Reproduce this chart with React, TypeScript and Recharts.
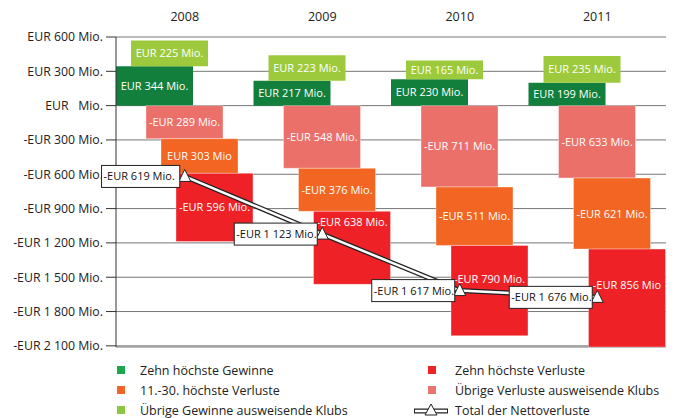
import React from 'react';
import { ComposedChart, Bar, Line, XAxis, YAxis, CartesianGrid, LabelList } from 'recharts';

const years = ['2008', '2009', '2010', '2011'];

// Mio. EUR per Jahr
const topGains = [344, 217, 230, 199];
const otherGains = [225, 223, 165, 235];
const otherLosses = [-289, -548, -711, -633];
const midLosses = [-303, -376, -511, -621];
const topLosses = [-596, -638, -790, -856];
const netTotals = [-619, -1123, -1617, -1676];

const topGainLabels = ['EUR 344 Mio.', 'EUR 217 Mio.', 'EUR 230 Mio.', 'EUR 199 Mio.'];
const otherGainLabels = ['EUR 225 Mio.', 'EUR 223 Mio.', 'EUR 165 Mio.', 'EUR 235 Mio.'];
const otherLossLabels = ['-EUR 289 Mio.', '-EUR 548 Mio.', '-EUR 711 Mio.', '-EUR 633 Mio.'];
const midLossLabels = ['EUR 303 Mio', '-EUR 376 Mio.', '-EUR 511 Mio.', '-EUR 621 Mio.'];
const topLossLabels = ['-EUR 596 Mio.', '-EUR 638 Mio.', '-EUR 790 Mio.', '-EUR 856 Mio'];
const netLabels = ['-EUR 619 Mio.', '-EUR 1 123 Mio.', '-EUR 1 617 Mio.', '-EUR 1 676 Mio.'];

const yTicks = [600, 300, 0, -300, -600, -900, -1200, -1500, -1800, -2100];

const COLORS = {
  topGain: '#137f3c',
  otherGain: '#9cca3c',
  otherLoss: '#eb706a',
  midLoss: '#f26522',
  topLoss: '#ee2226',
};

const legendItems = [
  { name: 'Zehn höchste Gewinne', color: '#19a84b', col: 0, row: 0 },
  { name: '11.-30. höchste Verluste', color: '#f26522', col: 0, row: 1 },
  { name: 'Übrige Gewinne ausweisende Klubs', color: '#8dc63f', col: 0, row: 2 },
  { name: 'Zehn höchste Verluste', color: '#ee2226', col: 1, row: 0 },
  { name: 'Übrige Verluste ausweisende Klubs', color: '#ec766f', col: 1, row: 1 },
];

// waterfall: gains stack up from zero, losses stack down from zero
const data = years.map((year, i) => {
  const g1 = topGains[i];
  const g2 = g1 + otherGains[i];
  const l1 = otherLosses[i];
  const l2 = l1 + midLosses[i];
  const l3 = l2 + topLosses[i];
  return {
    year,
    topGain: [0, g1],
    otherGain: [g1, g2],
    otherLoss: [l1, 0],
    midLoss: [l2, l1],
    topLoss: [l3, l2],
    net: netTotals[i],
    topGainLabel: topGainLabels[i],
    otherGainLabel: otherGainLabels[i],
    otherLossLabel: otherLossLabels[i],
    midLossLabel: midLossLabels[i],
    topLossLabel: topLossLabels[i],
    netLabel: netLabels[i],
  };
});

const FONT = "'Open Sans', sans-serif";

const formatEur = (v: number) => {
  if (v === 0) return 'EUR\u00a0\u00a0\u00a0Mio.';
  const abs = Math.abs(v).toString().replace(/\B(?=(\d{3})+(?!\d))/g, ' ');
  return `${v < 0 ? '-' : ''}EUR ${abs} Mio.`;
};

const Triangle = (props: any) => {
  const { cx, cy } = props;
  if (cx == null || cy == null) return null;
  return (
    <path
      d={`M${cx},${cy - 7} L${cx + 6},${cy + 5} L${cx - 6},${cy + 5} Z`}
      fill="#fff"
      stroke="#222"
      strokeWidth={1}
    />
  );
};

const BoxLabel = (props: any) => {
  const { x, y, value } = props;
  const text = String(value);
  const w = 47 + 2.4 * text.length;
  const left = x - 5 - w;
  return (
    <g>
      <rect x={left} y={y - 11} width={w} height={22} fill="#fff" stroke="#222" strokeWidth={1} />
      <text x={left + 2} y={y} dy="0.36em" fontSize={11} fill="#111" fontFamily={FONT}>
        {text}
      </text>
    </g>
  );
};

// centred white text, no wrapping
const BarLabel = (props: any) => {
  const { x, y, width, height, value } = props;
  return (
    <text
      x={x + width / 2}
      y={y + height / 2}
      dy="0.36em"
      textAnchor="middle"
      fill="#fff"
      fontSize={11}
      fontFamily={FONT}
    >
      {value}
    </text>
  );
};

// red bars: move the label up when the net-total box would sit on it
const TopLossLabel = (props: any) => {
  const { x, y, width, height, value } = props;
  const row = value || {};
  const top = Math.min(y, y + height);
  const h = Math.abs(height);
  const [low, high] = row.topLoss || [0, 0];
  const netY = top + ((high - row.net) / (high - low)) * h;
  let ly = top + h / 2;
  if (Math.abs(ly - netY) < 14) ly = netY - 12;
  return (
    <text
      x={x + width / 2}
      y={ly}
      dy="0.36em"
      textAnchor="middle"
      fill="#fff"
      fontSize={11}
      fontFamily={FONT}
    >
      {row.topLossLabel}
    </text>
  );
};

const Legend = () => (
  <div style={{ position: 'absolute', left: 0, top: 360, width: 675, height: 58, fontFamily: FONT, fontSize: 12.5, color: '#222' }}>
    {legendItems.map((it) => (
      <div
        key={it.name}
        style={{ position: 'absolute', left: it.col === 0 ? 117 : 428, top: it.row * 20, height: 20, display: 'flex', alignItems: 'center' }}
      >
        <span style={{ width: 8, height: 8, background: it.color, display: 'inline-block', marginRight: it.col === 0 ? 15 : 19 }} />
        <span>{it.name}</span>
      </div>
    ))}
    <div style={{ position: 'absolute', left: 413, top: 40, height: 20, display: 'flex', alignItems: 'center' }}>
      <svg width={36} height={16} style={{ marginRight: 6 }}>
        <line x1={1} y1={9} x2={35} y2={9} stroke="#222" strokeWidth={5} />
        <line x1={2} y1={9} x2={34} y2={9} stroke="#fff" strokeWidth={2.5} />
        <path d="M18,2 L24,13 L12,13 Z" fill="#fff" stroke="#222" strokeWidth={1} />
      </svg>
      <span>Total der Nettoverluste</span>
    </div>
  </div>
);

export default function App() {
  return (
    <div style={{ position: 'relative', width: 675, height: 418, background: '#fff' }}>
      <style>{'body{margin:0}'}</style>
      <ComposedChart
        width={675}
        height={418}
        data={data}
        margin={{ top: 0, right: 9, bottom: 71, left: 0 }}
        barSize={77}
        barGap={-62}
        style={{ fontFamily: FONT }}
      >
        <CartesianGrid vertical={false} stroke="#777" strokeWidth={1} />
        <XAxis
          dataKey="year"
          orientation="top"
          height={37}
          tickLine={false}
          axisLine={false}
          tickSize={0}
          tickMargin={16}
          tick={{ fill: '#222', fontSize: 12.5 }}
        />
        <YAxis
          domain={[-2100, 600]}
          ticks={yTicks}
          interval={0}
          width={116}
          tickFormatter={formatEur}
          tickSize={10}
          tickMargin={3}
          tick={{ fill: '#222', fontSize: 12.3 }}
          tickLine={{ stroke: '#333' }}
          axisLine={{ stroke: '#333' }}
        />
        <YAxis
          yAxisId="r"
          orientation="right"
          domain={[-2100, 600]}
          width={0}
          tick={false}
          tickLine={false}
          axisLine={{ stroke: '#333' }}
        />
        <Bar dataKey="topGain" fill={COLORS.topGain} isAnimationActive={false}>
          <LabelList dataKey="topGainLabel" content={<BarLabel />} />
        </Bar>
        <Bar dataKey="otherGain" fill={COLORS.otherGain} isAnimationActive={false}>
          <LabelList dataKey="otherGainLabel" content={<BarLabel />} />
        </Bar>
        <Bar dataKey="otherLoss" fill={COLORS.otherLoss} stroke="rgba(255,255,255,0.35)" isAnimationActive={false}>
          <LabelList dataKey="otherLossLabel" content={<BarLabel />} />
        </Bar>
        <Bar dataKey="midLoss" fill={COLORS.midLoss} stroke="rgba(255,255,255,0.35)" isAnimationActive={false}>
          <LabelList dataKey="midLossLabel" content={<BarLabel />} />
        </Bar>
        <Bar dataKey="topLoss" fill={COLORS.topLoss} stroke="rgba(255,255,255,0.35)" isAnimationActive={false}>
          <LabelList dataKey={(d: any) => d} content={<TopLossLabel />} />
        </Bar>
        <Line dataKey="net" stroke="#222" strokeWidth={5} dot={false} activeDot={false} isAnimationActive={false} />
        <Line dataKey="net" stroke="#fff" strokeWidth={2.5} dot={<Triangle />} activeDot={false} isAnimationActive={false}>
          <LabelList dataKey="netLabel" content={<BoxLabel />} />
        </Line>
      </ComposedChart>
      <Legend />
    </div>
  );
}
